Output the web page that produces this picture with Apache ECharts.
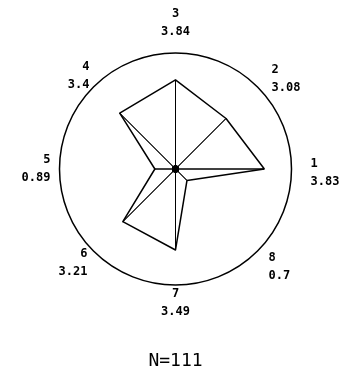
<!DOCTYPE html>
<html>
<head>
    <meta charset="UTF-8">
    <title>N=111</title>
    <script src="https://cdn.jsdelivr.net/npm/echarts@6.0.0/dist/echarts.min.js"></script>
    <style>
        body { margin: 0; padding: 0; background: #fff; }
        #chart { width: 351px; height: 367px; }
    </style>
</head>
<body>
<div id="chart"></div>
<script>
// 轴编号与数值
const axisNames = ['1', '2', '3', '4', '5', '6', '7', '8'];
const values = [3.83, 3.08, 3.84, 3.4, 0.89, 3.21, 3.49, 0.7];
const axisMax = 5;
const sampleText = 'N=111';

// 标签微调 (原图标签离圆的距离不一样): [上, 右, 下, 左]
const labelPad = [
    [7, 0, 0, 19],
    [0, 0, 17, 14],
    [0, 0, 12, 0],
    [0, 4, 23, 0],
    [0, 9, 0, 0],
    [24, 6, 0, 0],
    [0, 0, 0, 0],
    [31, 0, 0, 11]
];

const chart = echarts.init(document.getElementById('chart'));

const font = {
    color: '#000',
    fontFamily: 'DejaVu Sans Mono',
    fontSize: 12,
    fontWeight: 'bold',
    height: 18
};
const rich = {};
labelPad.forEach((p, i) => {
    rich['a' + i] = Object.assign({}, font, { padding: [p[0], p[1], 0, p[3]] });
    rich['b' + i] = Object.assign({}, font, { padding: [0, p[1], p[2], p[3]] });
});

// 每根辐条: 只有一个非零值的雷达多边形 = 从中心到数据点的线
const spokes = values.map((v, i) => ({
    value: values.map((_, j) => (j === i ? v : 0)),
    symbol: 'none',
    lineStyle: { color: '#000', width: 1 }
}));

chart.setOption({
    animation: false,
    title: {
        text: sampleText,
        left: 'center',
        top: 347,
        textStyle: {
            fontFamily: 'DejaVu Sans Mono',
            fontSize: 18,
            fontWeight: 'normal',
            color: '#000'
        }
    },
    radar: {
        center: ['50%', 169],
        radius: 116,
        startAngle: 0,
        shape: 'circle',
        splitNumber: 1,
        nameGap: 0,
        indicator: axisNames.map(n => ({ name: n, max: axisMax, min: 0 })),
        axisName: {
            formatter: (name) => {
                const i = axisNames.indexOf(name);
                return '{a' + i + '|' + name + '}\n{b' + i + '|' + values[i] + '}';
            },
            color: '#000',
            fontFamily: 'DejaVu Sans Mono',
            fontSize: 12,
            fontWeight: 'bold',
            rich: rich
        },
        axisLine: { show: false },
        axisTick: { show: false },
        axisLabel: { show: false },
        splitArea: { show: false },
        splitLine: { lineStyle: { color: '#000', width: 1.5 } }
    },
    series: [{
        type: 'radar',
        silent: true,
        data: [
            {
                value: values,
                symbol: 'none',
                lineStyle: { color: '#000', width: 1.5 }
            },
            ...spokes,
            {
                value: values.map(() => 0),
                symbol: 'circle',
                symbolSize: 7,
                itemStyle: { color: '#000' },
                lineStyle: { width: 0 }
            }
        ]
    }]
});
</script>
</body>
</html>
